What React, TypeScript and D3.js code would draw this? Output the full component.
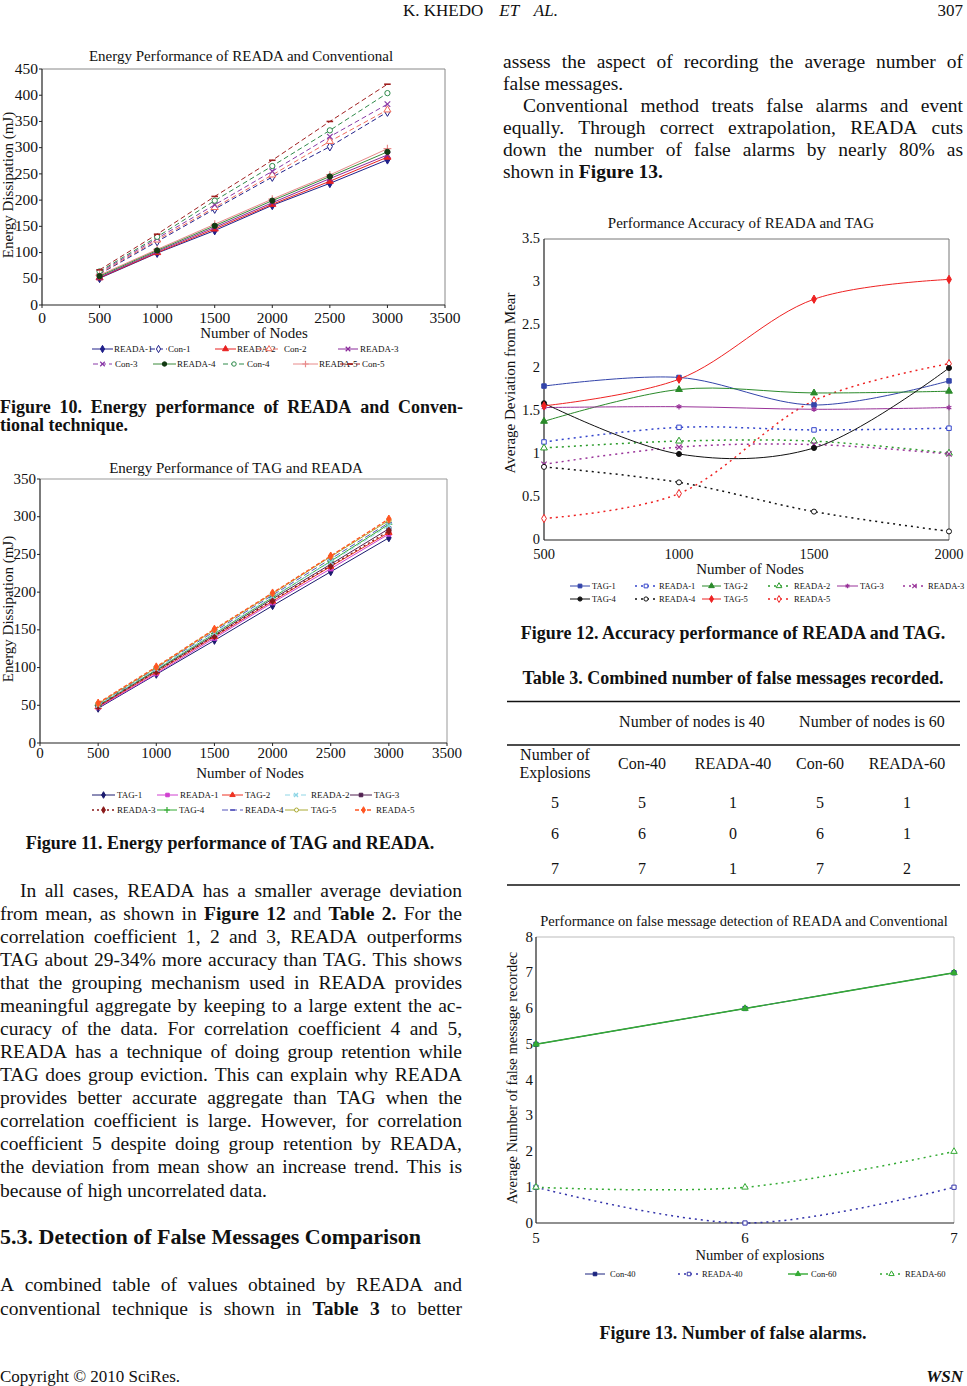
import React from "react";
import * as d3 from "d3";

const FONT = "'Liberation Serif', 'Times New Roman', Times, serif";
const FONT_NAME = "'Liberation Serif'";

// ---------------- Figure 10 data ----------------
const fig10Nodes = [500, 1000, 1500, 2000, 2500, 3000];
const fig10XTicks = [0, 500, 1000, 1500, 2000, 2500, 3000, 3500];
const fig10YTicks = [0, 50, 100, 150, 200, 250, 300, 350, 400, 450];
const fig10Reada1 = [51, 99, 142, 190, 232, 277];
const fig10Reada2 = [52, 100, 145, 192, 236, 282];
const fig10Reada3 = [53, 102, 148, 195, 241, 286];
const fig10Reada4 = [55, 104, 151, 199, 245, 292];
const fig10Reada5 = [57, 106, 154, 202, 248, 298];
const fig10Con1 = [59, 121, 183, 244, 302, 368];
const fig10Con2 = [60, 124, 186, 248, 312, 372];
const fig10Con3 = [62, 127, 191, 255, 321, 383];
const fig10Con4 = [64, 130, 199, 265, 333, 404];
const fig10Con5 = [67, 135, 207, 276, 350, 421];

// ---------------- Figure 11 data ----------------
const fig11Nodes = [500, 1000, 1500, 2000, 2500, 3000];
const fig11XTicks = [0, 500, 1000, 1500, 2000, 2500, 3000, 3500];
const fig11YTicks = [0, 50, 100, 150, 200, 250, 300, 350];
const fig11Tag1 = [46, 91, 136, 182, 227, 272];
const fig11Reada1 = [47, 92, 139, 186, 231, 277];
const fig11Tag2 = [48, 94, 141, 188, 234, 279];
const fig11Reada2 = [50, 98, 146, 194, 240, 288];
const fig11Tag3 = [49, 96, 143, 191, 237, 284];
const fig11Reada3 = [49, 95, 142, 189, 235, 281];
const fig11Tag4 = [50, 97, 145, 193, 241, 290];
const fig11Reada4 = [51, 99, 148, 196, 244, 292];
const fig11Tag5 = [52, 100, 150, 198, 247, 295];
const fig11Reada5 = [53, 101, 151, 199, 248, 297];

// ---------------- Figure 12 data ----------------
const fig12Nodes = [500, 1000, 1500, 2000];
const fig12XTicks = [500, 1000, 1500, 2000];
const fig12YTicks = [0, 0.5, 1, 1.5, 2, 2.5, 3, 3.5];
const fig12Tag1 = [1.79, 1.89, 1.57, 1.85];
const fig12Reada1 = [1.14, 1.31, 1.28, 1.3];
const fig12Tag2 = [1.38, 1.75, 1.71, 1.73];
const fig12Reada2 = [1.07, 1.15, 1.15, 1.01];
const fig12Tag3 = [1.54, 1.55, 1.52, 1.54];
const fig12Reada3 = [0.88, 1.08, 1.11, 1.0];
const fig12Tag4 = [1.59, 1.0, 1.07, 2.0];
const fig12Reada4 = [0.85, 0.67, 0.33, 0.1];
const fig12Tag5 = [1.56, 1.87, 2.8, 3.03];
const fig12Reada5 = [0.25, 0.54, 1.62, 2.05];

// ---------------- Table 3 data ----------------
const tableExplosions = [5, 6, 7];
const tableCon40 = [5, 6, 7];
const tableReada40 = [1, 0, 1];
const tableCon60 = [5, 6, 7];
const tableReada60 = [1, 1, 2];
const tableColumns = ["Con-40", "READA-40", "Con-60", "READA-60"];

// ---------------- Figure 13 data ----------------
const fig13Explosions = [5, 6, 7];
const fig13XTicks = [5, 6, 7];
const fig13YTicks = [0, 1, 2, 3, 4, 5, 6, 7, 8];
const fig13Con40 = tableCon40;
const fig13Reada40 = tableReada40;
const fig13Con60 = tableCon60;
const fig13Reada60 = tableReada60;

// ---------------- Body text ----------------
const rightTopLines = [
  "assess the aspect of recording the average number of",
  "false messages.",
  "Conventional method treats false alarms and event",
  "equally. Through correct extrapolation, READA cuts",
  "down the number of false alarms by nearly 80% as",
  "shown in *Figure *13.",
];
const leftParaLines = [
  "In all cases, READA has a smaller average deviation",
  "from mean, as shown in *Figure *12 and *Table *2. For the",
  "correlation coefficient 1, 2 and 3, READA outperforms",
  "TAG about 29-34% more accuracy than TAG. This shows",
  "that the grouping mechanism used in READA provides",
  "meaningful aggregate by keeping to a large extent the ac-",
  "curacy of the data. For correlation coefficient 4 and 5,",
  "READA has a technique of doing group retention while",
  "TAG does group eviction. This can explain why READA",
  "provides better accurate aggregate than TAG when the",
  "correlation coefficient is large. However, for correlation",
  "coefficient 5 despite doing group retention by READA,",
  "the deviation from mean show an increase trend. This is",
  "because of high uncorrelated data.",
];
const lastParaLines = [
  "A combined table of values obtained by READA and",
  "conventional technique is shown in *Table *3 to better",
];

// ---------------- helpers ----------------
let measureCtx: CanvasRenderingContext2D | null = null;
function measure(text: string, bold: boolean, size: number) {
  if (!measureCtx) measureCtx = document.createElement("canvas").getContext("2d");
  if (!measureCtx) return text.length * size * 0.45;
  measureCtx.font = `${bold ? "bold " : ""}${size}px ${FONT_NAME}`;
  return measureCtx.measureText(text).width;
}

function JLine({ text, x0, x1, y, size, justify, allBold }: { text: string; x0: number; x1: number; y: number; size: number; justify: boolean; allBold?: boolean }) {
  const words = text.split(" ").map((w) => (w.startsWith("*") ? { t: w.slice(1), b: true } : { t: w, b: !!allBold }));
  const widths = words.map((w) => measure(w.t, w.b, size));
  const total = widths.reduce((a, b) => a + b, 0);
  const sp = justify && words.length > 1 ? (x1 - x0 - total) / (words.length - 1) : measure(" ", false, size);
  let x = x0;
  return (
    <g>
      {words.map((w, i) => {
        const el = (
          <text key={i} x={x} y={y} fontSize={size} fontWeight={w.b ? "bold" : "normal"}>
            {w.t}
          </text>
        );
        x += widths[i] + sp;
        return el;
      })}
    </g>
  );
}

interface SeriesDef {
  name: string;
  values: number[];
  color: string;
  dash?: string;
  marker: string;
  open?: boolean;
  sw?: number;
  mcolor?: string;
}
interface LegendItem {
  s: number;
  x1: number;
  x2: number;
  tx: number;
  y: number;
}

const symbolTypes: Record<string, any> = {
  diamond: d3.symbolDiamond,
  square: d3.symbolSquare,
  triangle: d3.symbolTriangle,
  circle: d3.symbolCircle,
  x: (d3 as any).symbolTimes || d3.symbolCross,
  plus: (d3 as any).symbolPlus || d3.symbolCross,
  asterisk: (d3 as any).symbolAsterisk || d3.symbolCross,
};

function Marker({ kind, x, y, color, open, size }: { kind: string; x: number; y: number; color: string; open?: boolean; size: number }) {
  if (kind === "none") return null;
  if (kind === "dash") {
    const h = Math.sqrt(size) * 0.7;
    return <line x1={x - h} x2={x + h} y1={y} y2={y} stroke={color} strokeWidth={1.6} />;
  }
  const stroked = kind === "x" || kind === "plus" || kind === "asterisk";
  const d = d3.symbol().type(symbolTypes[kind]).size(size)() || "";
  return (
    <path
      d={d}
      transform={`translate(${x},${y})`}
      fill={stroked ? "none" : open ? "#fff" : color}
      stroke={color}
      strokeWidth={stroked ? 1.2 : 1}
    />
  );
}

interface ChartProps {
  left: number;
  right: number;
  top: number;
  bottom: number;
  xs: number[];
  xDomain: [number, number];
  yDomain: [number, number];
  xTicks: number[];
  yTicks: number[];
  series: SeriesDef[];
  smooth?: boolean;
  markerSize: number;
  title: string;
  titleX: number;
  titleY: number;
  titleSize: number;
  xLabel: string;
  xLabelX: number;
  xLabelY: number;
  yLabel: string;
  yLabelX: number;
  yLabelY: number;
  labelSize: number;
  tickSize: number;
  xTickY: number;
  yTickGap: number;
  frameColor: string;
  legend: LegendItem[];
  legendSize: number;
  tickLen: number;
  drawOrder?: number[];
}

function LineChart(p: ChartProps) {
  const x = d3.scaleLinear().domain(p.xDomain).range([p.left, p.right]);
  const y = d3.scaleLinear().domain(p.yDomain).range([p.bottom, p.top]);
  const line = d3
    .line<number>()
    .x((_, i) => x(p.xs[i]))
    .y((v) => y(v))
    .curve(p.smooth ? d3.curveCatmullRom.alpha(0.5) : d3.curveLinear);
  const order = p.drawOrder || p.series.map((_, i) => i);
  return (
    <g fontFamily={FONT}>
      <text x={p.titleX} y={p.titleY} fontSize={p.titleSize} textAnchor="middle">
        {p.title}
      </text>
      {/* frame */}
      <line x1={p.left} x2={p.right} y1={p.top} y2={p.top} stroke={p.frameColor} strokeWidth={1} />
      <line x1={p.right} x2={p.right} y1={p.top} y2={p.bottom} stroke={p.frameColor} strokeWidth={1} />
      <line x1={p.left} x2={p.left} y1={p.top} y2={p.bottom} stroke="#222" strokeWidth={1.2} />
      <line x1={p.left} x2={p.right} y1={p.bottom} y2={p.bottom} stroke="#222" strokeWidth={1.2} />
      {p.yTicks.map((t) => (
        <g key={"y" + t}>
          <line x1={p.left - p.tickLen} x2={p.left} y1={y(t)} y2={y(t)} stroke="#222" />
          <text x={p.left - p.tickLen - p.yTickGap} y={y(t) + p.tickSize * 0.3} fontSize={p.tickSize} textAnchor="end">
            {t}
          </text>
        </g>
      ))}
      {p.xTicks.map((t) => (
        <g key={"x" + t}>
          <line x1={x(t)} x2={x(t)} y1={p.bottom} y2={p.bottom + p.tickLen} stroke="#222" />
          <text x={x(t)} y={p.xTickY} fontSize={p.tickSize} textAnchor="middle">
            {t}
          </text>
        </g>
      ))}
      <text x={p.xLabelX} y={p.xLabelY} fontSize={p.labelSize} textAnchor="middle">
        {p.xLabel}
      </text>
      <text
        transform={`translate(${p.yLabelX},${p.yLabelY}) rotate(-90)`}
        fontSize={p.labelSize}
        textAnchor="middle"
        dominantBaseline="central"
      >
        {p.yLabel}
      </text>
      {order.map((si) => {
        const s = p.series[si];
        return (
          <g key={s.name}>
            <path d={line(s.values) || ""} fill="none" stroke={s.color} strokeWidth={s.sw || 1} strokeDasharray={s.dash} />
            {s.values.map((v, i) => (
              <Marker key={i} kind={s.marker} x={x(p.xs[i])} y={y(v)} color={s.mcolor || s.color} open={s.open} size={p.markerSize} />
            ))}
          </g>
        );
      })}
      {p.legend.map((it) => {
        const s = p.series[it.s];
        return (
          <g key={"lg" + it.s}>
            <line x1={it.x1} x2={it.x2} y1={it.y} y2={it.y} stroke={s.color} strokeWidth={s.sw || 1} strokeDasharray={s.dash} />
            <Marker kind={s.marker} x={(it.x1 + it.x2) / 2} y={it.y} color={s.mcolor || s.color} open={s.open} size={p.markerSize * 0.7} />
            <text x={it.tx} y={it.y + p.legendSize * 0.35} fontSize={p.legendSize}>
              {s.name}
            </text>
          </g>
        );
      })}
    </g>
  );
}

// ---------------- series definitions ----------------
const fig10Series: SeriesDef[] = [
  { name: "READA-1", values: fig10Reada1, color: "#20208a", marker: "diamond" },
  { name: "Con-1", values: fig10Con1, color: "#20208a", marker: "diamond", open: true, dash: "5,3" },
  { name: "READA-2", values: fig10Reada2, color: "#e82020", marker: "triangle" },
  { name: "Con-2", values: fig10Con2, color: "#f06a5a", marker: "triangle", open: true, dash: "5,3" },
  { name: "READA-3", values: fig10Reada3, color: "#8a2a9a", marker: "x" },
  { name: "Con-3", values: fig10Con3, color: "#8a3aa8", marker: "x", dash: "5,3" },
  { name: "READA-4", values: fig10Reada4, color: "#3a8a3a", marker: "circle", mcolor: "#123a12" },
  { name: "Con-4", values: fig10Con4, color: "#2e8a4a", marker: "circle", open: true, dash: "5,3" },
  { name: "READA-5", values: fig10Reada5, color: "#e88a8a", marker: "plus" },
  { name: "Con-5", values: fig10Con5, color: "#a02020", marker: "dash", dash: "5,3" },
];
const fig10Legend: LegendItem[] = [
  { s: 0, x1: 92, x2: 113, tx: 114, y: 349 },
  { s: 1, x1: 150, x2: 167, tx: 168, y: 349 },
  { s: 2, x1: 215, x2: 236, tx: 237, y: 349 },
  { s: 3, x1: 257, x2: 281, tx: 284, y: 349 },
  { s: 4, x1: 338, x2: 358, tx: 360, y: 349 },
  { s: 5, x1: 93, x2: 112, tx: 115, y: 364 },
  { s: 6, x1: 153, x2: 176, tx: 177, y: 364 },
  { s: 7, x1: 223, x2: 245, tx: 247, y: 364 },
  { s: 8, x1: 293, x2: 318, tx: 319, y: 364 },
  { s: 9, x1: 340, x2: 360, tx: 362, y: 364 },
];

const fig11Series: SeriesDef[] = [
  { name: "TAG-1", values: fig11Tag1, color: "#1a1a6e", marker: "diamond" },
  { name: "READA-1", values: fig11Reada1, color: "#d040d0", marker: "square" },
  { name: "TAG-2", values: fig11Tag2, color: "#ee3322", marker: "triangle" },
  { name: "READA-2", values: fig11Reada2, color: "#8fd6e6", marker: "x", dash: "5,3" },
  { name: "TAG-3", values: fig11Tag3, color: "#502050", marker: "square" },
  { name: "READA-3", values: fig11Reada3, color: "#8b1a1a", marker: "diamond", dash: "2,3", sw: 1.3 },
  { name: "TAG-4", values: fig11Tag4, color: "#33aa33", marker: "plus" },
  { name: "READA-4", values: fig11Reada4, color: "#5555bb", marker: "dash", dash: "6,3" },
  { name: "TAG-5", values: fig11Tag5, color: "#aaaa33", marker: "circle", open: true },
  { name: "READA-5", values: fig11Reada5, color: "#ff5522", marker: "diamond", dash: "4,2", sw: 1.3 },
];
const fig11Legend: LegendItem[] = [
  { s: 0, x1: 92, x2: 115, tx: 117, y: 795 },
  { s: 1, x1: 157, x2: 178, tx: 180, y: 795 },
  { s: 2, x1: 222, x2: 243, tx: 245, y: 795 },
  { s: 3, x1: 285, x2: 307, tx: 311, y: 795 },
  { s: 4, x1: 350, x2: 372, tx: 374, y: 795 },
  { s: 5, x1: 92, x2: 115, tx: 117, y: 810 },
  { s: 6, x1: 157, x2: 177, tx: 179, y: 810 },
  { s: 7, x1: 222, x2: 243, tx: 245, y: 810 },
  { s: 8, x1: 285, x2: 308, tx: 311, y: 810 },
  { s: 9, x1: 355, x2: 372, tx: 376, y: 810 },
];

const fig12Series: SeriesDef[] = [
  { name: "TAG-1", values: fig12Tag1, color: "#3344aa", marker: "square" },
  { name: "READA-1", values: fig12Reada1, color: "#3344cc", marker: "square", open: true, dash: "2,4", sw: 1.5 },
  { name: "TAG-2", values: fig12Tag2, color: "#2a8a2a", marker: "triangle" },
  { name: "READA-2", values: fig12Reada2, color: "#2a9a2a", marker: "triangle", open: true, dash: "2,4", sw: 1.5 },
  { name: "TAG-3", values: fig12Tag3, color: "#993399", marker: "asterisk" },
  { name: "READA-3", values: fig12Reada3, color: "#993399", marker: "x", dash: "2,4", sw: 1.5 },
  { name: "TAG-4", values: fig12Tag4, color: "#111111", marker: "circle" },
  { name: "READA-4", values: fig12Reada4, color: "#111111", marker: "circle", open: true, dash: "2,4", sw: 1.5 },
  { name: "TAG-5", values: fig12Tag5, color: "#ee2222", marker: "diamond" },
  { name: "READA-5", values: fig12Reada5, color: "#ee2222", marker: "diamond", open: true, dash: "2,4", sw: 1.5 },
];
const fig12Legend: LegendItem[] = [
  { s: 0, x1: 570, x2: 590, tx: 592, y: 586 },
  { s: 1, x1: 635, x2: 657, tx: 659, y: 586 },
  { s: 2, x1: 702, x2: 721, tx: 724, y: 586 },
  { s: 3, x1: 768, x2: 790, tx: 794, y: 586 },
  { s: 4, x1: 837, x2: 858, tx: 860, y: 586 },
  { s: 5, x1: 903, x2: 926, tx: 928, y: 586 },
  { s: 6, x1: 570, x2: 590, tx: 592, y: 599 },
  { s: 7, x1: 635, x2: 657, tx: 659, y: 599 },
  { s: 8, x1: 702, x2: 721, tx: 724, y: 599 },
  { s: 9, x1: 768, x2: 790, tx: 794, y: 599 },
];

const fig13Series: SeriesDef[] = [
  { name: "Con-40", values: fig13Con40, color: "#1a237e", marker: "square", sw: 1 },
  { name: "READA-40", values: fig13Reada40, color: "#3333aa", marker: "square", open: true, dash: "2,4", sw: 1.5 },
  { name: "Con-60", values: fig13Con60, color: "#33aa33", marker: "triangle", sw: 1.4 },
  { name: "READA-60", values: fig13Reada60, color: "#33aa33", marker: "triangle", open: true, dash: "2,4", sw: 1.5 },
];
const fig13Legend: LegendItem[] = [
  { s: 0, x1: 585, x2: 605, tx: 610, y: 1274 },
  { s: 1, x1: 678, x2: 700, tx: 702, y: 1274 },
  { s: 2, x1: 788, x2: 808, tx: 811, y: 1274 },
  { s: 3, x1: 880, x2: 903, tx: 905, y: 1274 },
];

// ---------------- layout ----------------
const BODY = 19.5;
const CAP = 18;

export default function App() {
  const tableRows = tableExplosions.map((e, i) => [e, tableCon40[i], tableReada40[i], tableCon60[i], tableReada60[i]]);
  const tableColX = [555, 642, 733, 820, 907];
  const tableRowY = [808, 839, 874];
  return (
    <svg
      width={967}
      height={1386}
      viewBox="0 0 967 1386"
      style={{ position: "absolute", left: 0, top: 0, background: "#fff" }}
      fontFamily={FONT}
      fill="#111"
    >
      <rect x={0} y={0} width={967} height={1386} fill="#fff" />
      {/* running header */}
      <text x={403} y={16} fontSize={17}>
        K. KHEDO
        <tspan fontStyle="italic" dx={16}>
          ET
        </tspan>
        <tspan fontStyle="italic" dx={16}>
          AL.
        </tspan>
      </text>
      <text x={963} y={16} fontSize={17} textAnchor="end">
        307
      </text>

      {/* Figure 10 */}
      <LineChart
        left={42}
        right={445}
        top={69}
        bottom={305}
        xs={fig10Nodes}
        xDomain={[0, 3500]}
        yDomain={[0, 450]}
        xTicks={fig10XTicks}
        yTicks={fig10YTicks}
        series={fig10Series}
        drawOrder={[1, 3, 5, 7, 9, 0, 2, 4, 8, 6]}
        markerSize={22}
        title="Energy Performance of READA and Conventional"
        titleX={241}
        titleY={61}
        titleSize={15}
        xLabel="Number of Nodes"
        xLabelX={254}
        xLabelY={338}
        yLabel="Energy Dissipation (mJ)"
        yLabelX={8}
        yLabelY={185}
        labelSize={15}
        tickSize={15.5}
        xTickY={323}
        yTickGap={1}
        frameColor="#888"
        legend={fig10Legend}
        legendSize={9}
        tickLen={3}
      />
      <JLine text="Figure 10. Energy performance of READA and Conven-" x0={0} x1={463} y={413} size={CAP} justify allBold />
      <JLine text="tional technique." x0={0} x1={463} y={431} size={CAP} justify={false} allBold />

      {/* Figure 11 */}
      <LineChart
        left={40}
        right={447}
        top={479}
        bottom={743}
        xs={fig11Nodes}
        xDomain={[0, 3500]}
        yDomain={[0, 350]}
        xTicks={fig11XTicks}
        yTicks={fig11YTicks}
        series={fig11Series}
        drawOrder={[0, 1, 2, 4, 6, 5, 7, 3, 8, 9]}
        markerSize={18}
        title="Energy Performance of TAG and READA"
        titleX={236}
        titleY={473}
        titleSize={15}
        xLabel="Number of Nodes"
        xLabelX={250}
        xLabelY={778}
        yLabel="Energy Dissipation (mJ)"
        yLabelX={8}
        yLabelY={609}
        labelSize={15}
        tickSize={15}
        xTickY={758}
        yTickGap={1}
        frameColor="#999"
        legend={fig11Legend}
        legendSize={9}
        tickLen={3}
      />
      <text x={230} y={849} fontSize={CAP} fontWeight="bold" textAnchor="middle">
        Figure 11. Energy performance of TAG and READA.
      </text>

      {/* Left column paragraph */}
      {leftParaLines.map((l, i) => (
        <JLine
          key={"lp" + i}
          text={l}
          x0={i === 0 ? 20 : 0}
          x1={462}
          y={896.5 + i * 23.08}
          size={BODY}
          justify={i !== leftParaLines.length - 1}
        />
      ))}
      <text x={0} y={1244} fontSize={22} fontWeight="bold">
        5.3. Detection of False Messages Comparison
      </text>
      {lastParaLines.map((l, i) => (
        <JLine key={"lq" + i} text={l} x0={0} x1={462} y={1290.5 + i * 24} size={BODY} justify />
      ))}

      {/* Right column top text */}
      {rightTopLines.map((l, i) => (
        <JLine
          key={"rt" + i}
          text={l}
          x0={i === 2 ? 523 : 503}
          x1={963}
          y={68 + i * 22}
          size={BODY}
          justify={i !== 1 && i !== 5}
        />
      ))}

      {/* Figure 12 */}
      <LineChart
        left={544}
        right={949}
        top={239}
        bottom={540}
        xs={fig12Nodes}
        xDomain={[500, 2000]}
        yDomain={[0, 3.5]}
        xTicks={fig12XTicks}
        yTicks={fig12YTicks}
        series={fig12Series}
        smooth
        drawOrder={[1, 3, 5, 7, 9, 0, 2, 4, 6, 8]}
        markerSize={20}
        title="Performance Accuracy of READA and TAG"
        titleX={741}
        titleY={228}
        titleSize={15}
        xLabel="Number of Nodes"
        xLabelX={750}
        xLabelY={574}
        yLabel="Average Deviation from Mear"
        yLabelX={510}
        yLabelY={383}
        labelSize={15}
        tickSize={14.5}
        xTickY={559}
        yTickGap={4}
        frameColor="#777"
        legend={fig12Legend}
        legendSize={8.5}
        tickLen={0}
      />
      <text x={733} y={639} fontSize={CAP} fontWeight="bold" textAnchor="middle">
        Figure 12. Accuracy performance of READA and TAG.
      </text>

      {/* Table 3 */}
      <text x={733} y={684} fontSize={CAP} fontWeight="bold" textAnchor="middle">
        Table 3. Combined number of false messages recorded.
      </text>
      <line x1={507} x2={960} y1={701.5} y2={701.5} stroke="#111" strokeWidth={1.3} />
      <line x1={507} x2={960} y1={745} y2={745} stroke="#111" strokeWidth={1.3} />
      <line x1={507} x2={960} y1={885} y2={885} stroke="#111" strokeWidth={1.3} />
      <g fontSize={16} textAnchor="middle">
        <text x={692} y={727}>Number of nodes is 40</text>
        <text x={872} y={727}>Number of nodes is 60</text>
        <text x={555} y={760}>Number of</text>
        <text x={555} y={778}>Explosions</text>
        {tableColumns.map((c, i) => (
          <text key={c} x={tableColX[i + 1]} y={769}>
            {c}
          </text>
        ))}
        {tableRows.map((row, r) =>
          row.map((v, c) => (
            <text key={r + "-" + c} x={tableColX[c]} y={tableRowY[r]}>
              {v}
            </text>
          ))
        )}
      </g>

      {/* Figure 13 */}
      <LineChart
        left={536}
        right={954}
        top={937}
        bottom={1223}
        xs={fig13Explosions}
        xDomain={[5, 7]}
        yDomain={[0, 8]}
        xTicks={fig13XTicks}
        yTicks={fig13YTicks}
        series={fig13Series}
        smooth
        drawOrder={[1, 3, 0, 2]}
        markerSize={18}
        title="Performance on false message detection of READA and Conventional"
        titleX={744}
        titleY={926}
        titleSize={14.5}
        xLabel="Number of explosions"
        xLabelX={760}
        xLabelY={1260}
        yLabel="Average Number of false message recordec"
        yLabelX={512}
        yLabelY={1078}
        labelSize={14.5}
        tickSize={15}
        xTickY={1243}
        yTickGap={3}
        frameColor="#bbb"
        legend={fig13Legend}
        legendSize={8.5}
        tickLen={0}
      />
      <text x={733} y={1339} fontSize={CAP} fontWeight="bold" textAnchor="middle">
        Figure 13. Number of false alarms.
      </text>

      {/* footer */}
      <text x={0} y={1382} fontSize={17}>
        Copyright © 2010 SciRes.
      </text>
      <text x={963} y={1382} fontSize={17} fontWeight="bold" fontStyle="italic" textAnchor="end">
        WSN
      </text>
    </svg>
  );
}
